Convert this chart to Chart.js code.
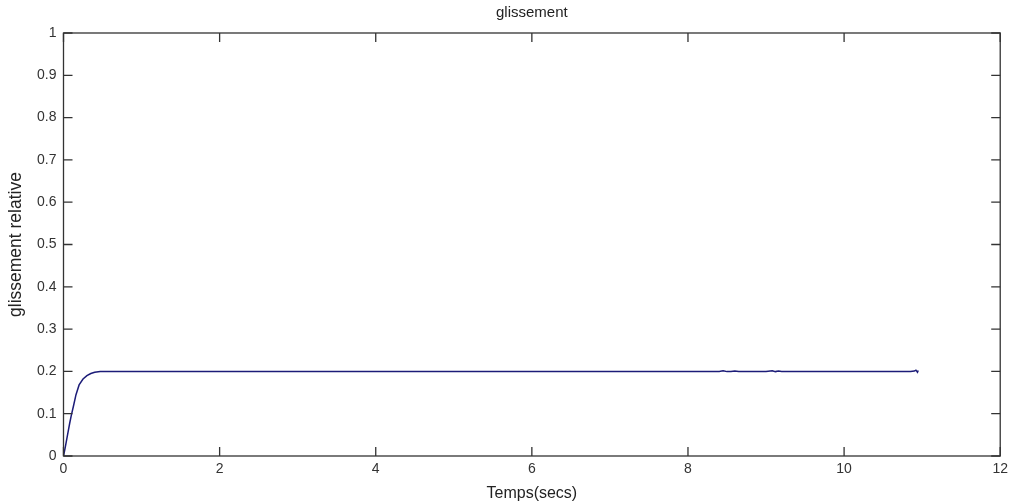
<!DOCTYPE html>
<html>
<head>
<meta charset="utf-8">
<script src="https://cdn.jsdelivr.net/npm/chart.js@4.4.1/dist/chart.umd.min.js"></script>
<style>
  body { margin: 0; background: #fff; }
  #wrap { width: 1013px; height: 504px; }
</style>
</head>
<body>
<div id="wrap"><canvas id="canvas"></canvas></div>
<script>
const times = [0, 0.02, 0.04, 0.06, 0.08, 0.1, 0.13, 0.16, 0.2, 0.25, 0.3, 0.35, 0.4, 0.47, 0.6,
  1, 2, 3, 4, 5, 6, 7, 8, 8.4, 8.45, 8.5, 8.55, 8.6, 8.65, 9.0, 9.08, 9.12, 9.16, 9.2, 9.25,
  10, 10.85, 10.9, 10.92, 10.94, 10.95];
const slip = [0, 0.018, 0.038, 0.058, 0.078, 0.096, 0.12, 0.145, 0.168, 0.182, 0.19, 0.195, 0.198, 0.2, 0.2,
  0.2, 0.2, 0.2, 0.2, 0.2, 0.2, 0.2, 0.2, 0.2, 0.2015, 0.1995, 0.2, 0.2008, 0.2, 0.2, 0.2015, 0.1995, 0.2008, 0.2, 0.2,
  0.2, 0.2, 0.2008, 0.203, 0.198, 0.202];
const xTicks = [0, 2, 4, 6, 8, 10, 12];
const yTicks = [0, 0.1, 0.2, 0.3, 0.4, 0.5, 0.6, 0.7, 0.8, 0.9, 1];

const axisColor = '#333';
const font = 'Liberation Sans, Arial, sans-serif';

// matlab style box with inward ticks on all sides
const boxPlugin = {
  id: 'box',
  afterDraw(chart) {
    const c = chart.ctx, a = chart.chartArea;
    const xs = chart.scales.x, ys = chart.scales.y;
    const len = 9;
    c.save();
    c.strokeStyle = axisColor;
    c.lineWidth = 1.3;
    c.strokeRect(a.left, a.top, a.right - a.left, a.bottom - a.top);
    c.beginPath();
    xTicks.forEach(v => {
      const px = xs.getPixelForValue(v);
      c.moveTo(px, a.bottom); c.lineTo(px, a.bottom - len);
      c.moveTo(px, a.top); c.lineTo(px, a.top + len);
    });
    yTicks.forEach(v => {
      const py = ys.getPixelForValue(v);
      c.moveTo(a.left, py); c.lineTo(a.left + len, py);
      c.moveTo(a.right, py); c.lineTo(a.right - len, py);
    });
    c.stroke();
    c.restore();
  }
};

const data = {
  datasets: [{
    data: times.map((t, i) => ({ x: t, y: slip[i] })),
    showLine: true,
    borderColor: '#1c1c78',
    borderWidth: 1.5,
    pointRadius: 0,
    tension: 0,
    fill: false
  }]
};

const options = {
  responsive: true,
  maintainAspectRatio: false,
  animation: false,
  layout: { padding: { left: 0, right: 12, top: 0, bottom: 0 } },
  plugins: {
    legend: { display: false },
    tooltip: { enabled: false },
    title: {
      display: true,
      text: 'glissement',
      fullSize: false,
      color: '#222',
      font: { family: font, size: 15, weight: 'normal' },
      padding: { top: 4, bottom: 11 }
    }
  },
  scales: {
    x: {
      type: 'linear',
      min: 0, max: 12,
      afterFit: s => { s.height = 48; },
      afterBuildTicks: s => { s.ticks = xTicks.map(v => ({ value: v })); },
      grid: { display: false, drawTicks: false },
      border: { display: false },
      ticks: { color: '#333', padding: 5, font: { family: font, size: 14 }, callback: v => String(v) },
      title: {
        display: true,
        text: 'Temps(secs)',
        color: '#222',
        font: { family: font, size: 16 },
        padding: { top: 2, bottom: 1 }
      }
    },
    y: {
      min: 0, max: 1,
      afterFit: s => { s.width = 63.5; },
      afterBuildTicks: s => { s.ticks = yTicks.map(v => ({ value: v })); },
      grid: { display: false, drawTicks: false },
      border: { display: false },
      ticks: { color: '#333', padding: 7, font: { family: font, size: 14 }, callback: v => String(v) },
      title: {
        display: true,
        text: 'glissement relative',
        color: '#222',
        font: { family: font, size: 17.5 },
        padding: { top: 6, bottom: 0 }
      }
    }
  }
};

new Chart(document.getElementById('canvas'), {
  type: 'scatter',
  data: data,
  options: options,
  plugins: [boxPlugin]
});
</script>
</body>
</html>
